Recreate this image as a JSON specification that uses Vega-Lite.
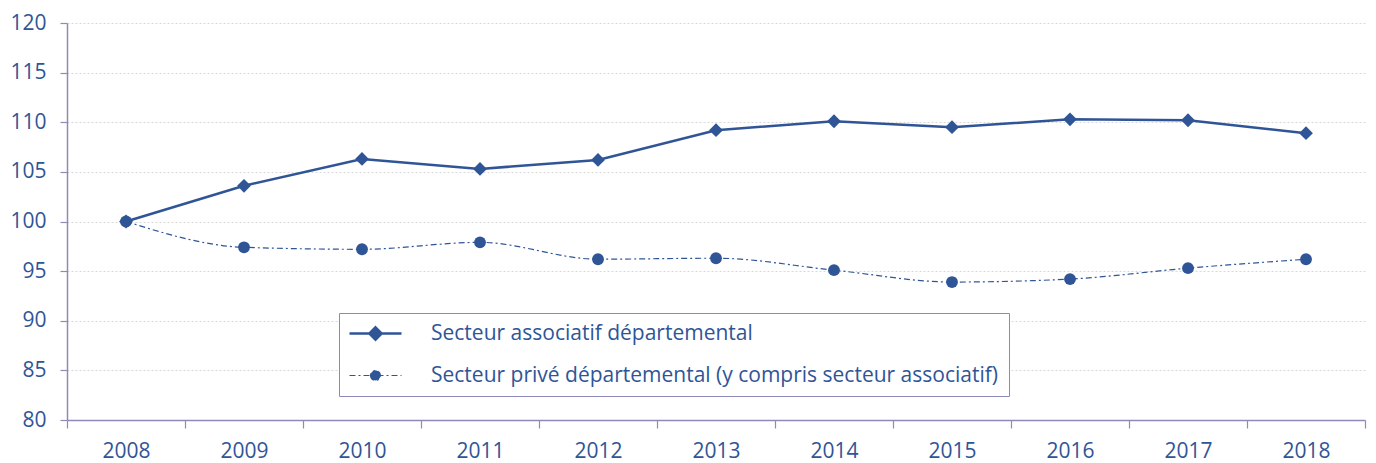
{
  "$schema": "https://vega.github.io/schema/vega-lite/v6.json",
  "width": 1298,
  "height": 397,
  "autosize": {"type": "none"},
  "padding": {"left": 67, "top": 23, "right": 11, "bottom": 43},
  "background": "white",
  "config": {
    "font": "Open Sans",
    "view": {"stroke": null},
    "axis": {
      "labelFont": "Open Sans",
      "labelFontSize": 21,
      "labelColor": "#2F5597",
      "domainColor": "#8E8AB8",
      "tickColor": "#8E8AB8",
      "domainWidth": 1.5,
      "tickWidth": 1.2,
      "title": null
    }
  },
  "data": {
    "values": [
      {"year": "2008", "series": "Secteur associatif départemental", "value": 100},
      {"year": "2009", "series": "Secteur associatif départemental", "value": 103.6},
      {"year": "2010", "series": "Secteur associatif départemental", "value": 106.3},
      {"year": "2011", "series": "Secteur associatif départemental", "value": 105.3},
      {"year": "2012", "series": "Secteur associatif départemental", "value": 106.2},
      {"year": "2013", "series": "Secteur associatif départemental", "value": 109.2},
      {"year": "2014", "series": "Secteur associatif départemental", "value": 110.1},
      {"year": "2015", "series": "Secteur associatif départemental", "value": 109.5},
      {"year": "2016", "series": "Secteur associatif départemental", "value": 110.3},
      {"year": "2017", "series": "Secteur associatif départemental", "value": 110.2},
      {"year": "2018", "series": "Secteur associatif départemental", "value": 108.9},
      {"year": "2008", "series": "Secteur privé départemental (y compris secteur associatif)", "value": 100},
      {"year": "2009", "series": "Secteur privé départemental (y compris secteur associatif)", "value": 97.4},
      {"year": "2010", "series": "Secteur privé départemental (y compris secteur associatif)", "value": 97.2},
      {"year": "2011", "series": "Secteur privé départemental (y compris secteur associatif)", "value": 97.9},
      {"year": "2012", "series": "Secteur privé départemental (y compris secteur associatif)", "value": 96.2},
      {"year": "2013", "series": "Secteur privé départemental (y compris secteur associatif)", "value": 96.3},
      {"year": "2014", "series": "Secteur privé départemental (y compris secteur associatif)", "value": 95.1},
      {"year": "2015", "series": "Secteur privé départemental (y compris secteur associatif)", "value": 93.9},
      {"year": "2016", "series": "Secteur privé départemental (y compris secteur associatif)", "value": 94.2},
      {"year": "2017", "series": "Secteur privé départemental (y compris secteur associatif)", "value": 95.3},
      {"year": "2018", "series": "Secteur privé départemental (y compris secteur associatif)", "value": 96.2}
    ]
  },
  "encoding": {
    "x": {
      "field": "year",
      "type": "ordinal",
      "scale": {"type": "band", "paddingInner": 0, "paddingOuter": 0},
      "axis": {
        "labelAngle": 0,
        "tickBand": "extent",
        "tickSize": 8,
        "labelPadding": 12,
        "grid": false
      }
    },
    "y": {
      "field": "value",
      "type": "quantitative",
      "scale": {"domain": [80, 120], "nice": false, "zero": false},
      "axis": {
        "values": [80, 85, 90, 95, 100, 105, 110, 115, 120],
        "tickSize": 7,
        "labelPadding": 14,
        "grid": true,
        "gridColor": "#D9D9D9",
        "gridDash": [2, 2],
        "gridWidth": 1
      }
    },
    "color": {
      "field": "series",
      "type": "nominal",
      "scale": {
        "domain": ["Secteur associatif départemental", "Secteur privé départemental (y compris secteur associatif)"],
        "range": ["#2F5597", "#2F5597"]
      },
      "legend": {
        "title": null,
        "orient": "none",
        "legendX": 272,
        "legendY": 290,
        "padding": 10,
        "rowPadding": 19,
        "strokeColor": "#8E8AB8",
        "fillColor": "white",
        "symbolSize": 1156,
        "symbolOffset": 16,
        "labelOffset": 45,
        "labelFont": "Open Sans",
        "labelFontSize": 21,
        "labelColor": "#2F5597",
        "labelLimit": 800,
        "encode": {
          "symbols": {
            "update": {
              "shape": {"signal": "datum.value === 'Secteur associatif départemental' ? 'M-1.53,0L1.53,0M0,-0.36L0.36,0L0,0.36L-0.36,0Z' : 'M-1.53,0L1.53,0M-0.29,0A0.29,0.29 0 1,0 0.29,0A0.29,0.29 0 1,0 -0.29,0Z'"},
              "fill": {"value": "#2F5597"},
              "stroke": {"value": "#2F5597"},
              "strokeWidth": {"signal": "datum.value === 'Secteur associatif départemental' ? 2.5 : 1.2"},
              "strokeDash": {"signal": "datum.value === 'Secteur associatif départemental' ? [] : [6, 3, 2, 3]"},
              "opacity": {"value": 1}
            }
          }
        }
      }
    }
  },
  "layer": [
    {
      "transform": [{"filter": "datum.series === 'Secteur associatif départemental'"}],
      "mark": {"type": "line", "strokeWidth": 2.5}
    },
    {
      "transform": [{"filter": "datum.series !== 'Secteur associatif départemental'"}],
      "mark": {"type": "line", "strokeWidth": 1.2, "strokeDash": [6, 3, 2, 3], "interpolate": "monotone"}
    },
    {
      "transform": [{"filter": "datum.series === 'Secteur associatif départemental'"}],
      "mark": {"type": "point", "shape": "diamond", "filled": true, "size": 190, "opacity": 1}
    },
    {
      "transform": [{"filter": "datum.series !== 'Secteur associatif départemental'"}],
      "mark": {"type": "point", "shape": "circle", "filled": true, "size": 140, "opacity": 1}
    }
  ]
}
